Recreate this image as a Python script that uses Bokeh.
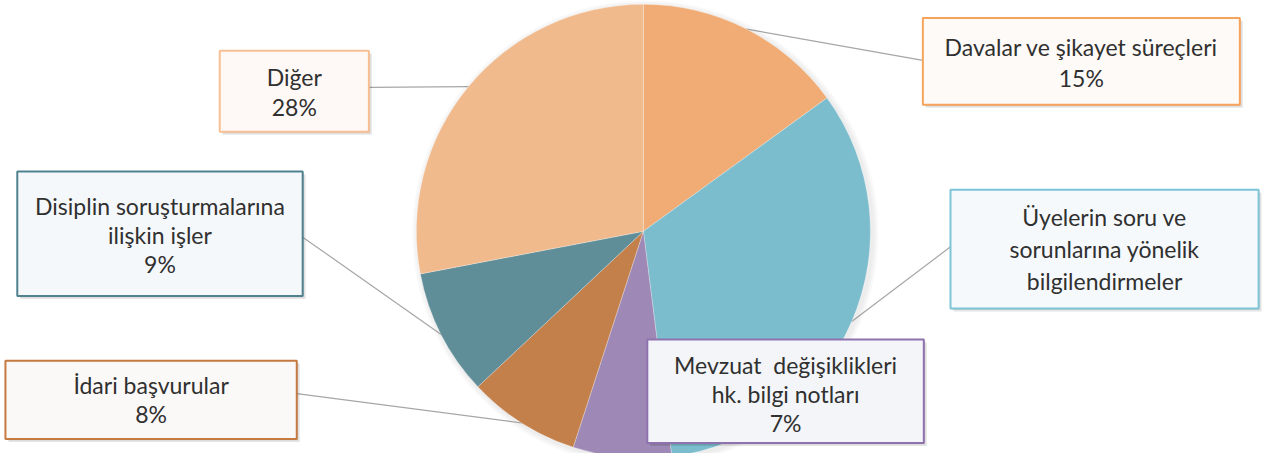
import numpy as np
from bokeh.plotting import figure
from bokeh.models import Range1d
from bokeh.embed import file_html
from bokeh.resources import INLINE
from bokeh.core.properties import value

# ---- data ----
categories = ["Davalar ve şikayet süreçleri",
              "Üyelerin soru ve sorunlarına yönelik bilgilendirmeler",
              "Mevzuat değişiklikleri hk. bilgi notları",
              "İdari başvurular",
              "Disiplin soruşturmalarına ilişkin işler",
              "Diğer"]
shares = [15, 33, 7, 8, 9, 28]
label_names = [["Davalar ve şikayet süreçleri"],
               ["Üyelerin soru ve", "sorunlarına yönelik", "bilgilendirmeler"],
               ["Mevzuat\u00a0 değişiklikleri", "hk. bilgi notları"],
               ["İdari başvurular"],
               ["Disiplin soruşturmalarına", "ilişkin işler"],
               ["Diğer"]]
show_pct = [True, False, True, True, True, True]

# ---- styles / layout ----
slice_colors = ["#F0AC74", "#7BBCCD", "#9E88B6", "#C4804A", "#5F8D98", "#F1BA8C"]
box_borders = ["#F7A35C", "#7CC4D6", "#8E72AE", "#C47A40", "#4F818F", "#F9BF94"]
box_fills = ["#FDFAF7", "#F6F9FB", "#F3F5F8", "#FBF9F8", "#F5F8FA", "#FEF9F6"]
# reference pixel layout: (left, top, right, bottom), first line centre, line step, leader anchor
box_layout = [((934, 18, 1255, 108), 48, 32, (934, 62)),
              ((962, 196, 1274, 319), 224, 33, (962, 255)),
              ((655, 351, 935, 458), 377, 30, None),
              ((5, 373, 300, 454), 398, 30, (300, 407)),
              ((17, 177, 306, 306), 213, 30, (306, 245)),
              ((222, 52, 373, 136), 79, 31, (373, 90))]

W, H = 1266, 453
RW, RH = 1282, 469
def X(x): return x * W / RW
def Y(y): return H - y * H / RH

cx, cy, r = X(651), Y(239), 227

p = figure(width=W, height=H, output_backend="svg", toolbar_location=None,
           x_range=Range1d(0, W), y_range=Range1d(0, H), min_border=0)
p.axis.visible = False
p.grid.visible = False
p.outline_line_color = None
p.background_fill_color = "white"
p.border_fill_color = "white"

vals = np.array(shares, dtype=float)
frac = vals / vals.sum()
cum = np.concatenate([[0], np.cumsum(frac)])
theta_start = np.pi / 2 - 2 * np.pi * cum[:-1]
theta_end = np.pi / 2 - 2 * np.pi * cum[1:]
theta_mid = (theta_start + theta_end) / 2

# leader lines
for i in range(len(shares)):
    anchor = box_layout[i][3]
    if anchor is None:
        continue
    ex = cx + r * np.cos(theta_mid[i])
    ey = cy + r * np.sin(theta_mid[i])
    p.line([ex, X(anchor[0])], [ey, Y(anchor[1])], line_color="#A6A6A6", line_width=1.2)

# pie shadow
for k in range(3):
    p.circle(x=[cx + 2], y=[cy - 2], radius=r + 2 + 2 * k, fill_color="#808080",
             fill_alpha=0.05, line_color=None)

p.wedge(x=cx, y=cy, radius=r, start_angle=theta_end, end_angle=theta_start,
        fill_color=slice_colors, line_color="white", line_alpha=0.35, line_width=0.8)

# label boxes
for i in range(len(shares)):
    (l, t, rr, b), y0, step, _ = box_layout[i]
    p.quad(left=[X(l) + 3], right=[X(rr) + 3], top=[Y(t) - 3], bottom=[Y(b) - 3],
           fill_color="#000000", fill_alpha=0.10, line_color=None)
    p.quad(left=[X(l) + 1.5], right=[X(rr) + 1.5], top=[Y(t) - 1.5], bottom=[Y(b) - 1.5],
           fill_color="#000000", fill_alpha=0.08, line_color=None)
    p.quad(left=[X(l)], right=[X(rr)], top=[Y(t)], bottom=[Y(b)],
           fill_color=box_fills[i], line_color=box_borders[i], line_width=2)
    lines = list(label_names[i])
    if show_pct[i]:
        lines.append(f"{shares[i]}%")
    xs = [X((l + rr) / 2)] * len(lines)
    ys = [Y(y0 + j * step) for j in range(len(lines))]
    p.text(x=xs, y=ys, text=lines, text_align="center", text_baseline="middle",
           text_font=value("Lato"), text_font_size="23px", text_color="#303030")

open("out.html", "w").write(file_html(p, INLINE))
